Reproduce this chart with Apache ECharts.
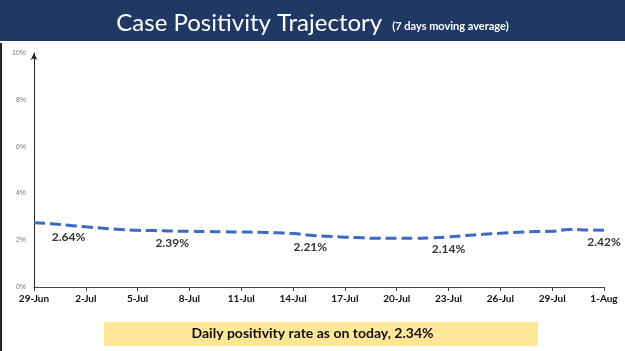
<!DOCTYPE html>
<html>
<head>
<meta charset="utf-8">
<script src="https://cdn.jsdelivr.net/npm/echarts@6/dist/echarts.min.js"></script>
<style>
html,body{margin:0;padding:0;background:#fff;}
#c{width:625px;height:351px;}
</style>
</head>
<body>
<div id="c"></div>
<script>
const categories = ['29-Jun','30-Jun','1-Jul','2-Jul','3-Jul','4-Jul','5-Jul','6-Jul','7-Jul','8-Jul','9-Jul','10-Jul','11-Jul','12-Jul','13-Jul','14-Jul','15-Jul','16-Jul','17-Jul','18-Jul','19-Jul','20-Jul','21-Jul','22-Jul','23-Jul','24-Jul','25-Jul','26-Jul','27-Jul','28-Jul','29-Jul','30-Jul','31-Jul','1-Aug'];
const positivity = [2.75,2.70,2.64,2.57,2.51,2.46,2.42,2.41,2.39,2.38,2.37,2.36,2.35,2.34,2.32,2.29,2.21,2.17,2.13,2.10,2.08,2.08,2.08,2.10,2.14,2.20,2.25,2.30,2.34,2.37,2.38,2.46,2.44,2.42];
const labelledDays = ['1-Jul','7-Jul','15-Jul','23-Jul','1-Aug'];
const yTicks = [0,2,4,6,8,10];
const footerText = 'Daily positivity rate as on today, 2.34%';

const chart = echarts.init(document.getElementById('c'), null, {renderer:'canvas'});
const seriesData = positivity.map((v,i)=>{
  const show = labelledDays.indexOf(categories[i])>=0;
  return show ? {value:v, label:{show:true}} : {value:v};
});
chart.setOption({
  animation:false,
  graphic:[
    {type:'rect', left:0, top:0, shape:{width:625, height:41}, style:{fill:'#203864'}, z:0},
    {type:'rect', left:0, top:43, shape:{width:2, height:308}, style:{fill:'#222'}, z:0},
    {type:'rect', left:104, top:322, shape:{width:434, height:24}, style:{fill:'#FFE699'}, z:0},
    {type:'text', left:'center', top:326, style:{text:footerText, font:'bold 14px Lato, "Open Sans", sans-serif', fill:'#111'}, z:2}
  ],
  title:{
    text:'{a|Case Positivity Trajectory}  {b|(7 days moving average)}',
    left:'center', top:6,
    textStyle:{
      rich:{
        a:{fontFamily:'Lato, "Open Sans", sans-serif', fontSize:24, color:'#fff', fontWeight:'normal'},
        b:{fontFamily:'Lato, "Open Sans", sans-serif', fontSize:11, color:'#fff', padding:[6,0,0,0]}
      }
    }
  },
  grid:{left:34, right:21, top:53, bottom:64, containLabel:false},
  xAxis:{
    type:'category', data:categories, boundaryGap:false,
    axisLine:{lineStyle:{color:'#444', width:1}},
    axisTick:{interval:2, length:4, lineStyle:{color:'#444'}},
    axisLabel:{interval:2, color:'#111', fontWeight:'bold', fontSize:10, fontFamily:'Lato, "Open Sans", sans-serif', margin:7, showMaxLabel:true},
    splitLine:{show:false}
  },
  yAxis:{
    type:'value', min:0, max:10, interval:2,
    axisLine:{show:true, lineStyle:{color:'#222', width:1}, symbol:['none','arrow'], symbolSize:[5,7]},
    axisTick:{show:false},
    axisLabel:{formatter:'{value}%', color:'#777', fontSize:7, margin:8},
    splitLine:{show:false}
  },
  series:[{
    type:'line', data:seriesData, smooth:true, symbol:'circle', symbolSize:0, showSymbol:true,
    itemStyle:{color:'#3E6AC4'},
    lineStyle:{color:'#3E6AC4', width:3, type:[11,5]},
    label:{show:false, position:'bottom', distance:6, formatter:p=>p.value.toFixed(2)+'%', color:'#333', fontWeight:'bold', fontSize:12, fontFamily:'Lato, "Open Sans", sans-serif'}
  }]
});
</script>
</body>
</html>
